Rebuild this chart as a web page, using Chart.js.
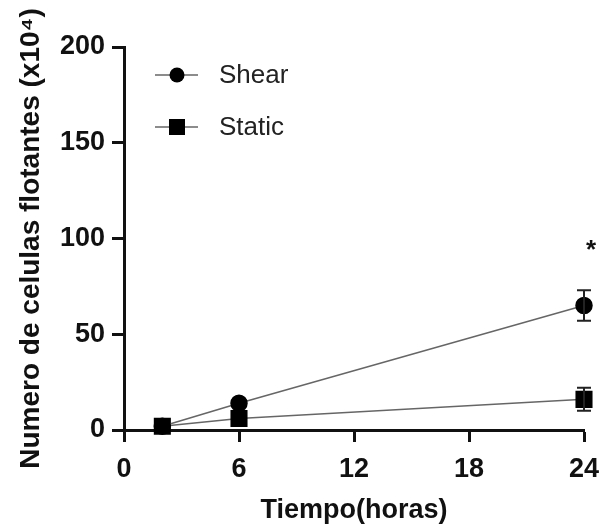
<!DOCTYPE html>
<html>
<head>
<meta charset="utf-8">
<script src="https://cdn.jsdelivr.net/npm/chart.js@4"></script>
<style>
  html, body { margin: 0; padding: 0; background: #fff; }
  #wrap { width: 602px; height: 529px; }
</style>
</head>
<body>
<div id="wrap"><canvas id="chart" width="602" height="529"></canvas></div>
<script>
// data
const hours = [2, 6, 24];
const shear = [2, 14, 65];
const shearErr = [0, 0, 8];
const staticVals = [2, 6, 16];
const staticErr = [0, 0, 6];
const xTicks = [0, 6, 12, 18, 24];
const yTicks = [0, 50, 100, 150, 200];
const starAt = { x: 24, y: 95, text: '*' };

const FONT = "'Liberation Sans', Arial, sans-serif";

function toPoints(xs, ys) {
    return xs.map((x, i) => ({ x: x, y: ys[i] }));
}

// error bars, legend and significance star
const extras = {
    id: 'extras',
    afterDatasetsDraw(chart) {
        const ctx = chart.ctx;
        const xs = chart.scales.x;
        const ys = chart.scales.y;
        const errs = [shearErr, staticErr];
        ctx.save();
        ctx.strokeStyle = '#222';
        ctx.lineWidth = 2;
        chart.data.datasets.forEach((ds, d) => {
            ds.data.forEach((p, i) => {
                const e = errs[d][i];
                if (!e) return;
                const px = xs.getPixelForValue(p.x);
                const top = ys.getPixelForValue(p.y + e);
                const bot = ys.getPixelForValue(p.y - e);
                ctx.beginPath();
                ctx.moveTo(px, top); ctx.lineTo(px, bot);
                ctx.moveTo(px - 7, top); ctx.lineTo(px + 7, top);
                ctx.moveTo(px - 7, bot); ctx.lineTo(px + 7, bot);
                ctx.stroke();
            });
        });

        // legend
        const rows = [75, 127];
        chart.data.datasets.forEach((ds, d) => {
            const y = rows[d];
            ctx.strokeStyle = '#666';
            ctx.lineWidth = 1.5;
            ctx.beginPath();
            ctx.moveTo(155, y); ctx.lineTo(198, y);
            ctx.stroke();
            ctx.fillStyle = '#000';
            if (ds.pointStyle === 'circle') {
                ctx.beginPath();
                ctx.arc(177, y, 7.5, 0, Math.PI * 2);
                ctx.fill();
            } else {
                ctx.fillRect(169, y - 8, 16, 16);
            }
            ctx.font = '26px ' + FONT;
            ctx.textBaseline = 'middle';
            ctx.fillStyle = '#222';
            ctx.fillText(ds.label, 219, y + 1);
        });

        // star
        ctx.font = 'bold 26px ' + FONT;
        ctx.textAlign = 'center';
        ctx.textBaseline = 'middle';
        ctx.fillStyle = '#111';
        ctx.fillText(starAt.text, xs.getPixelForValue(starAt.x) + 7, ys.getPixelForValue(starAt.y) + 3);
        ctx.restore();
    }
};

new Chart(document.getElementById('chart'), {
    type: 'scatter',
    data: {
        datasets: [
            {
                label: 'Shear',
                data: toPoints(hours, shear),
                showLine: true,
                borderColor: '#666',
                borderWidth: 1.5,
                pointStyle: 'circle',
                pointRadius: 8,
                pointBackgroundColor: '#000',
                pointBorderColor: '#000',
                clip: false
            },
            {
                label: 'Static',
                data: toPoints(hours, staticVals),
                showLine: true,
                borderColor: '#666',
                borderWidth: 1.5,
                pointStyle: 'rect',
                pointRadius: 11,
                pointBackgroundColor: '#000',
                pointBorderColor: '#000',
                clip: false
            }
        ]
    },
    options: {
        responsive: false,
        animation: false,
        layout: { padding: { top: 47, right: 18, left: 0, bottom: 0 } },
        plugins: {
            legend: { display: false },
            tooltip: { enabled: false }
        },
        scales: {
            x: {
                type: 'linear',
                min: 0, max: 24,
                afterBuildTicks: (s) => { s.ticks = xTicks.map(v => ({ value: v })); },
                afterFit: (s) => { s.height = 99; s.paddingRight = 0; s.paddingLeft = 0; },
                grid: { drawOnChartArea: false, tickLength: 12, tickWidth: 3, tickColor: '#111' },
                border: { color: '#111', width: 3 },
                ticks: { color: '#111', font: { family: FONT, size: 27, weight: 'bold' }, padding: 11, maxRotation: 0 },
                title: { display: true, text: 'Tiempo(horas)', color: '#111', font: { family: FONT, size: 27, weight: 'bold' }, padding: { top: 10, bottom: 2 } }
            },
            y: {
                min: 0, max: 200,
                afterBuildTicks: (s) => { s.ticks = yTicks.map(v => ({ value: v })); },
                afterFit: (s) => { s.width = 124; },
                grid: { drawOnChartArea: false, tickLength: 12, tickWidth: 3, tickColor: '#111' },
                border: { color: '#111', width: 3 },
                ticks: { color: '#111', font: { family: FONT, size: 27, weight: 'bold' }, padding: 7 },
                title: { display: true, text: 'Numero de celulas flotantes (x10\u2074)', color: '#111', font: { family: FONT, size: 28, weight: 'bold' }, padding: { top: 14, bottom: 0 } }
            }
        }
    },
    plugins: [extras]
});
</script>
</body>
</html>
